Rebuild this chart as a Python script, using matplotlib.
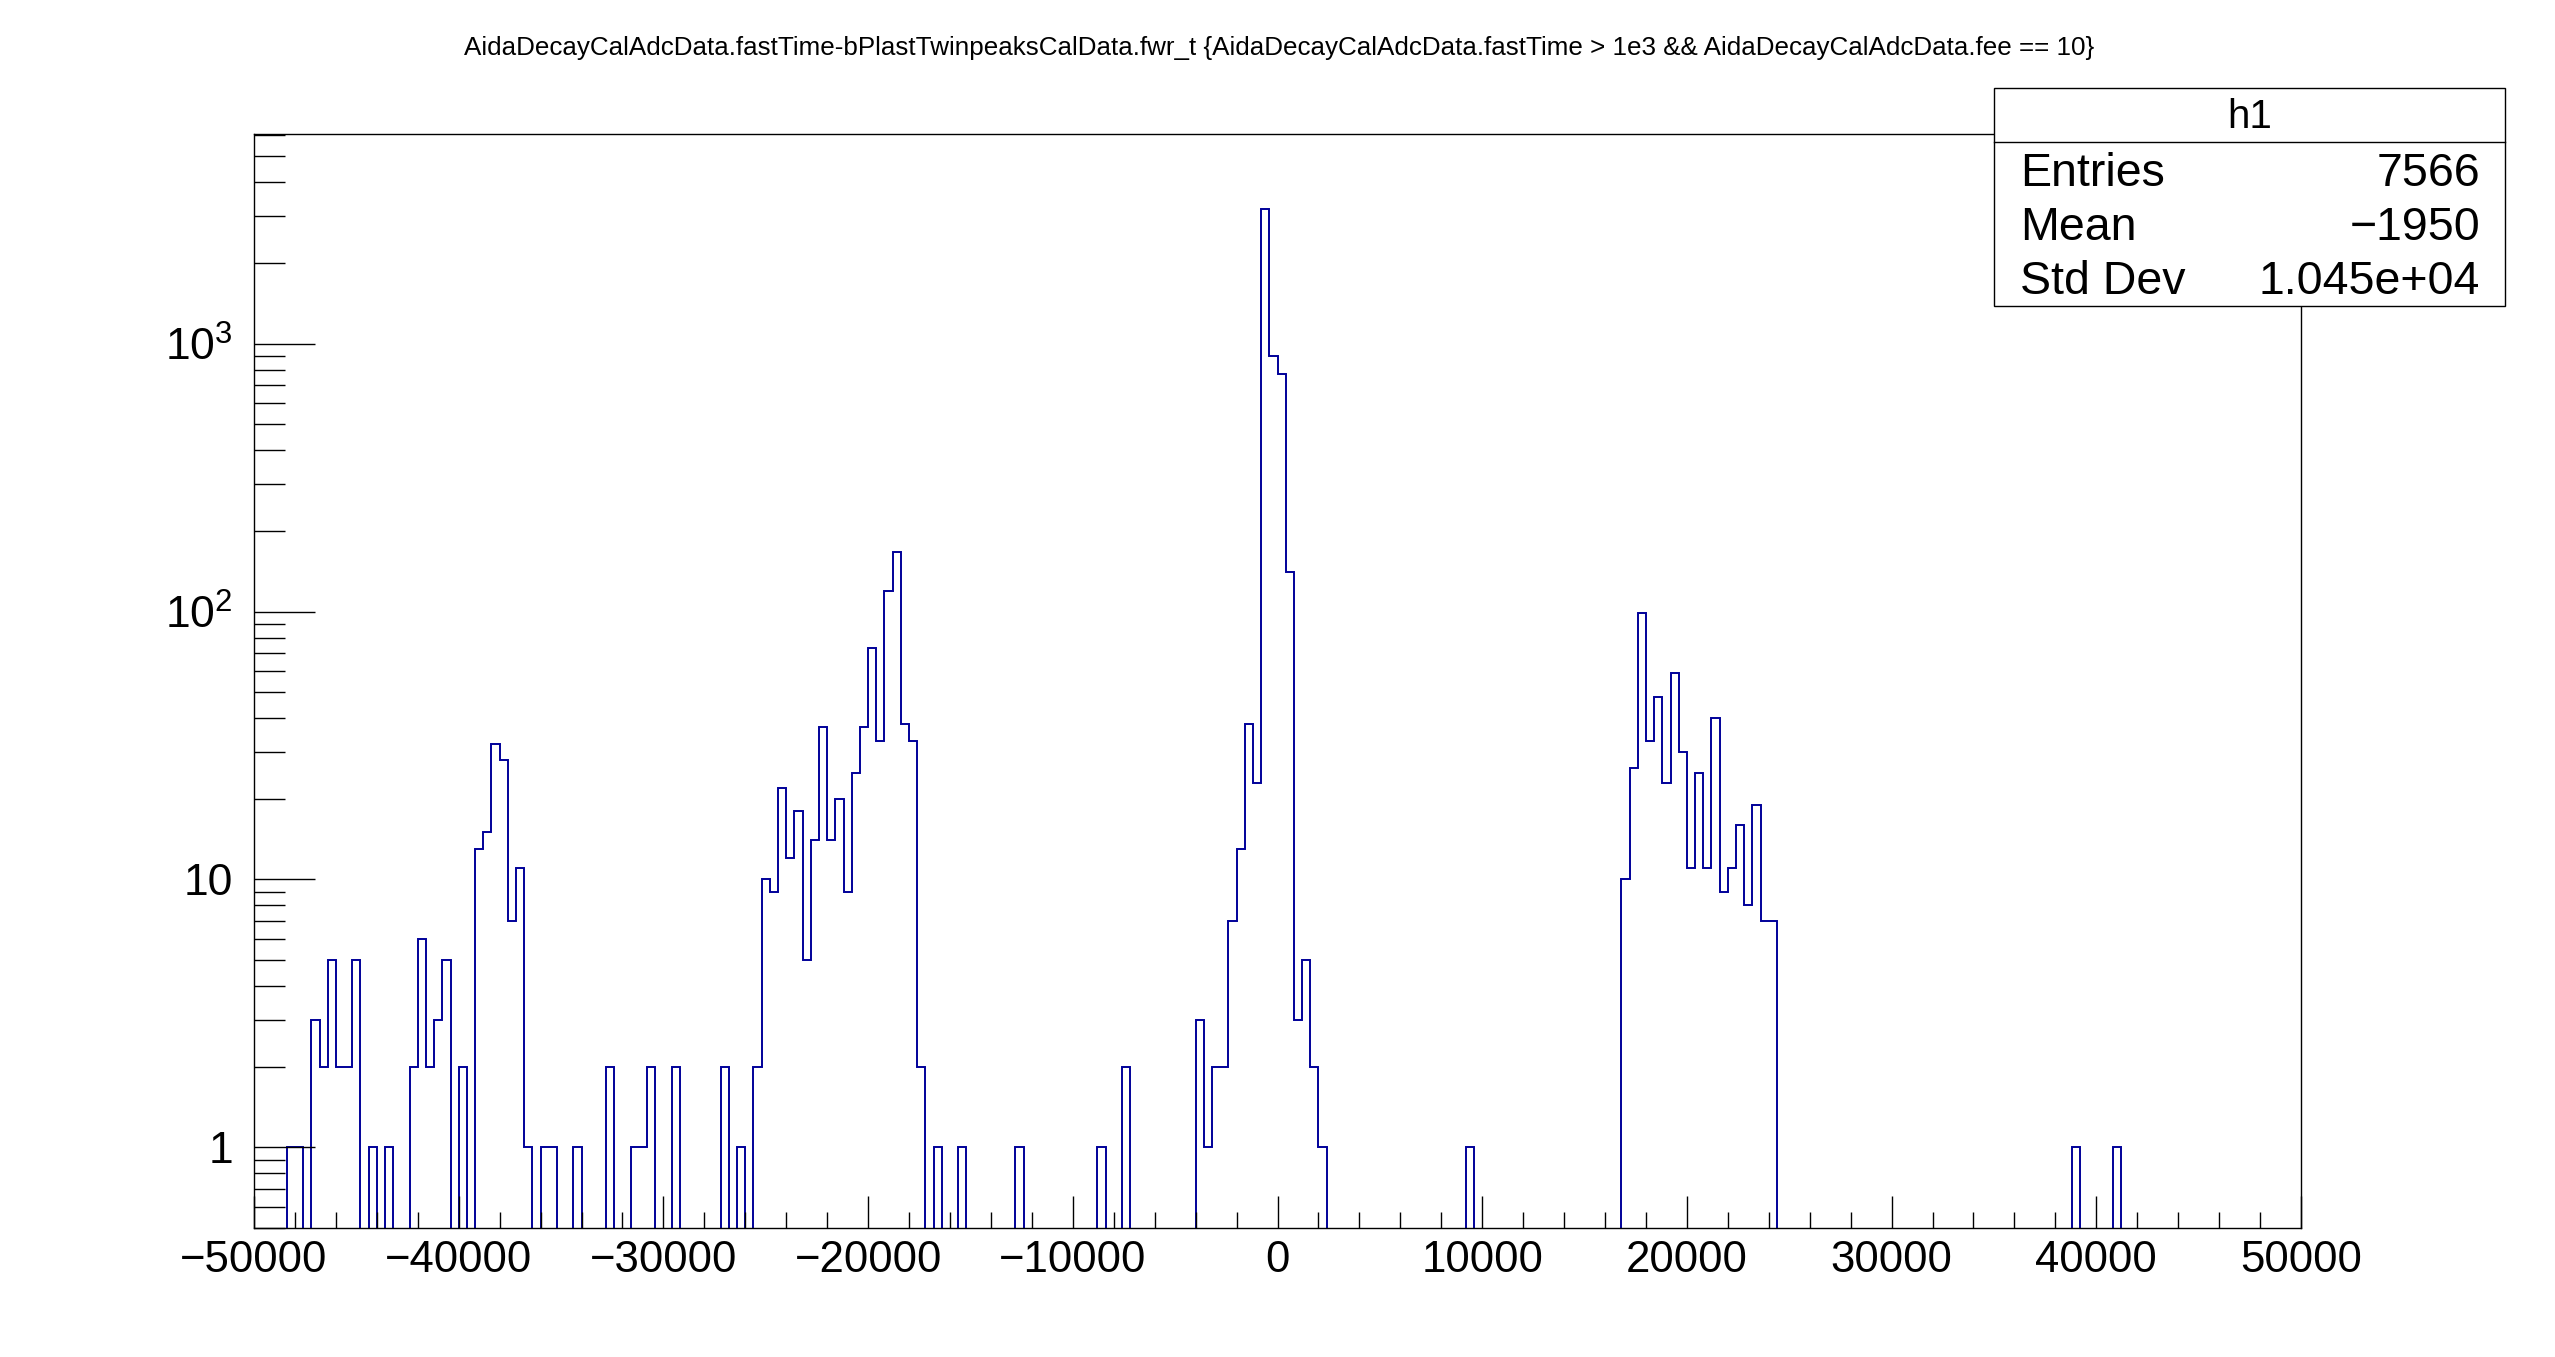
import numpy as np
import matplotlib
matplotlib.use("Agg")
import matplotlib.pyplot as plt
from matplotlib import ticker
from matplotlib.patches import Rectangle
from matplotlib.lines import Line2D

plt.rcParams['font.family'] = ['Liberation Sans', 'DejaVu Sans']
plt.rcParams['mathtext.fontset'] = 'custom'
plt.rcParams['mathtext.rm'] = 'Liberation Sans'
plt.rcParams['mathtext.it'] = 'Liberation Sans'

# histogram binning (250 bins from -50000 to 50000)
x_lo, x_hi, n_bins = -50000, 50000, 250

# non-empty bins: lower bin edge and counts, by cluster
edges_a = [-48400, -48000, -47200, -46800, -46400, -46000, -45600, -45200, -44400, -43600,
           -42400, -42000, -41600, -41200, -40800, -40000, -39200, -38800, -38400, -38000,
           -37600, -37200, -36800, -36000, -35600, -34400]
counts_a = [1, 1, 3, 2, 5, 2, 2, 5, 1, 1,
            2, 6, 2, 3, 5, 2, 13, 15, 32, 28,
            7, 11, 1, 1, 1, 1]

edges_b = [-32800, -31600, -31200, -30800, -29600, -27200, -26400, -25600, -25200, -24800,
           -24400, -24000, -23600, -23200, -22800, -22400, -22000, -21600, -21200, -20800,
           -20400, -20000, -19600, -19200, -18800, -18400, -18000, -17600, -16800, -15600]
counts_b = [2, 1, 1, 2, 2, 2, 1, 2, 10, 9,
            22, 12, 18, 5, 14, 37, 14, 20, 9, 25,
            37, 73, 33, 119, 167, 38, 33, 2, 1, 1]

edges_c = [-12800, -8800, -7600, -4000, -3600, -3200, -2800, -2400, -2000, -1600,
           -1200, -800, -400, 0, 400, 800, 1200, 1600, 2000]
counts_c = [1, 1, 2, 3, 1, 2, 2, 7, 13, 38,
            23, 3184, 896, 767, 141, 3, 5, 2, 1]

edges_d = [9200, 16800, 17200, 17600, 18000, 18400, 18800, 19200, 19600, 20000,
           20400, 20800, 21200, 21600, 22000, 22400, 22800, 23200, 23600, 24000,
           38800, 40800]
counts_d = [1, 10, 26, 99, 33, 48, 23, 59, 30, 11,
            25, 11, 40, 9, 11, 16, 8, 19, 7, 7,
            1, 1]

stats_name = "h1"
stats_rows = [("Entries", "7566"), ("Mean", "\u22121950"), ("Std Dev", "1.045e+04")]
title = ("AidaDecayCalAdcData.fastTime-bPlastTwinpeaksCalData.fwr_t "
         "{AidaDecayCalAdcData.fastTime > 1e3 && AidaDecayCalAdcData.fee == 10}")

edges = np.linspace(x_lo, x_hi, n_bins + 1)
width = (x_hi - x_lo) / n_bins
counts = np.zeros(n_bins)
all_edges = np.array(edges_a + edges_b + edges_c + edges_d, dtype=float)
all_counts = np.array(counts_a + counts_b + counts_c + counts_d, dtype=float)
idx = np.round((all_edges - x_lo) / width).astype(int)
counts[idx] = all_counts

W, H = 2555, 1357
fig = plt.figure(figsize=(W / 100, H / 100), dpi=100)
ax = fig.add_axes([254 / W, 1 - 1228 / H, (2301 - 254) / W, (1228 - 134) / H])

line_col = '#000099'
# empty bins drop below the axis floor, like ROOT does on a log scale
ax.stairs(np.where(counts > 0, counts, 1e-3), edges, baseline=1e-3,
          color=line_col, lw=1.4)

ax.set_yscale('log')
ax.set_xlim(x_lo, x_hi)
ax.set_ylim(0.5, 6060)

xt = np.arange(x_lo, x_hi + 1, 10000)
ax.set_xticks(xt)
ax.set_xticklabels([str(int(v)).replace('-', '\u2212') for v in xt], fontsize=31.5)
ax.xaxis.set_minor_locator(ticker.MultipleLocator(2000))
ax.set_yticks([1, 10, 100, 1000])
ax.set_yticklabels(['1', '10', '$10^{2}$', '$10^{3}$'], fontsize=32)
ax.yaxis.set_minor_locator(ticker.LogLocator(base=10, subs=np.arange(2, 10)))
ax.yaxis.set_minor_formatter(ticker.NullFormatter())

ax.tick_params(axis='x', which='major', direction='in', length=23, width=1, pad=9,
               top=False)
ax.tick_params(axis='x', which='minor', direction='in', length=11.5, width=1, top=False)
ax.tick_params(axis='y', which='major', direction='in', length=44, width=1, pad=15,
               right=False)
ax.tick_params(axis='y', which='minor', direction='in', length=22, width=1, right=False)
for s in ax.spines.values():
    s.set_linewidth(1)
    s.set_color('black')

fig.text(1279 / W, 1 - 48 / H, title, ha='center', va='center', fontsize=18.7)

# stats box
bx0, bx1, by0, by1, bdiv = 1994, 2505, 88, 306, 142
fig.patches.append(Rectangle((bx0 / W, 1 - by1 / H), (bx1 - bx0) / W, (by1 - by0) / H,
                             transform=fig.transFigure, facecolor='white',
                             edgecolor='black', lw=1, zorder=5))
fig.lines.append(Line2D([bx0 / W, bx1 / W], [1 - bdiv / H, 1 - bdiv / H],
                        transform=fig.transFigure, color='black', lw=1, zorder=6))
fig.text((bx0 + bx1) / 2 / W, 1 - 117 / H, stats_name, ha='center', va='center',
         fontsize=29, zorder=7)
for i, (k, v) in enumerate(stats_rows):
    y = 1 - (174 + 54 * i) / H
    fig.text(2020 / W, y, k, ha='left', va='center', fontsize=33.5, zorder=7)
    fig.text(2480 / W, y, v, ha='right', va='center', fontsize=33.5, zorder=7)

fig.savefig('out.png', dpi=100, facecolor='white')
